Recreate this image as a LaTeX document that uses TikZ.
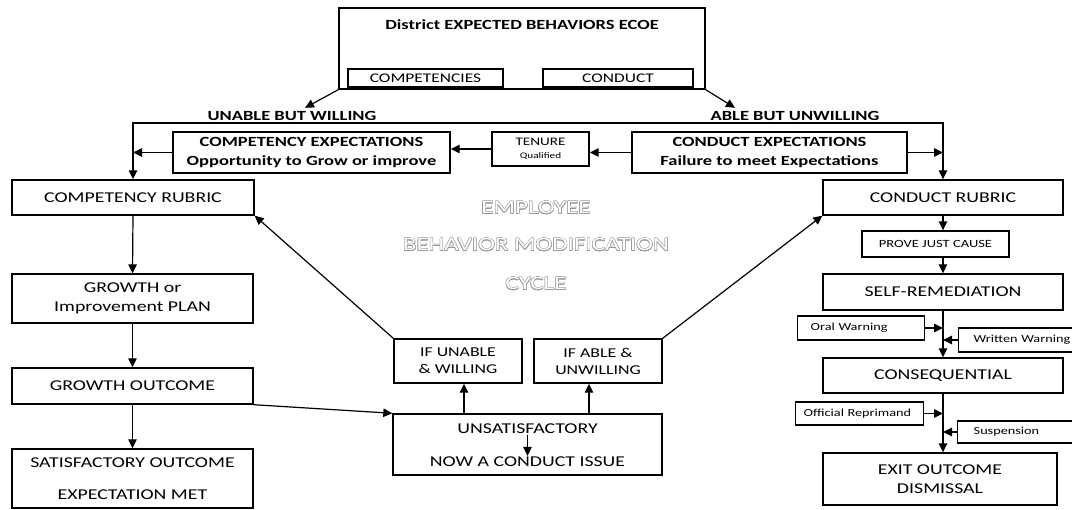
\documentclass[tikz,border=0pt]{standalone}
\usepackage{fontspec}
\setmainfont{Carlito}[FakeStretch=1.32]
\usepackage{contour}
\usepackage{tikz}
\usetikzlibrary{arrows.meta}

\newcommand{\fbig}{\fontsize{15}{19}\selectfont}
\newcommand{\fmid}{\fontsize{13.5}{17}\selectfont}
\newcommand{\fsmall}{\fontsize{11}{13}\selectfont}
\newcommand{\ftiny}{\fontsize{10.8}{12}\selectfont}
\newcommand{\fhead}{\fontsize{14}{19}\selectfont\bfseries}
\contourlength{0.45pt}
\contournumber{16}

\begin{document}
\begin{tikzpicture}[x=1pt, y=-1pt, >={Triangle[length=9pt,width=8.5pt]},
    box/.style={draw, line width=1.4pt, inner sep=0pt, align=center},
    conn/.style={line width=1.2pt}]
		\useasboundingbox (0,0) rectangle (1072,510);
		\clip (0,0) rectangle (1072,510);
		% top block
		\node[box, minimum width=366pt, minimum height=81pt] (ecoe) at (522,48.5) {};
		\node[font=\fhead] (ecoetitle) at (522,25) {District EXPECTED BEHAVIORS ECOE};
		\node[box, font=\fontsize{13.2}{16}\selectfont, minimum width=155pt, minimum height=18pt] (comp) at (425.5,78) {COMPETENCIES};
		\node[box, font=\fontsize{13.2}{16}\selectfont, minimum width=150pt, minimum height=18pt] (cond) at (618,78) {CONDUCT};
		\node[font=\fhead] (unable) at (292,116) {UNABLE BUT WILLING};
		\node[font=\fhead] (able) at (795,116) {ABLE BUT UNWILLING};
		\coordinate (mid) at (540,123);
		% expectations row
		\node[box, font=\fhead, minimum width=277pt, minimum height=41pt] (compexp) at (311.5,152.5) {COMPETENCY EXPECTATIONS\\Opportunity to Grow or improve};
		\node[box, font=\fontsize{11.5}{13}\selectfont, minimum width=97pt, minimum height=34pt] (tenure) at (540.5,149) {TENURE\\{\fontsize{8.5}{10}\selectfont Qualified}};
		\node[box, font=\fhead, minimum width=275pt, minimum height=41pt] (condexp) at (769.5,152.5) {CONDUCT EXPECTATIONS\\Failure to meet Expectations};
		% left column
		\node[box, font=\fbig, minimum width=242pt, minimum height=35pt] (comprubric) at (133,197.5) {COMPETENCY RUBRIC};
		\node[box, font=\fbig, minimum width=241pt, minimum height=49pt] (plan) at (132.5,298.5) {GROWTH or\\Improvement PLAN};
		\node[box, font=\fbig, minimum width=241pt, minimum height=36pt] (outcome) at (132.5,386) {GROWTH OUTCOME};
		\node[box, font=\fbig, minimum width=241pt, minimum height=59pt] (satis) at (132.5,478.5) {SATISFACTORY OUTCOME\\[13pt]EXPECTATION MET};
		% centre
		\node[font=\fontsize{19}{22}\selectfont, text=white] (cyc1) at (536,208) {\contour{black!40}{EMPLOYEE}};
		\node[font=\fontsize{19}{22}\selectfont, text=white] (cyc2) at (536,245) {\contour{black!40}{BEHAVIOR MODIFICATION}};
		\node[font=\fontsize{19}{22}\selectfont, text=white] (cyc3) at (536,284) {\contour{black!40}{CYCLE}};
		\node[box, font=\fmid, minimum width=128pt, minimum height=44pt] (ifunable) at (458,361) {IF UNABLE\\\& WILLING};
		\node[box, font=\fmid, minimum width=128pt, minimum height=44pt] (ifable) at (598,361) {IF ABLE \&\\UNWILLING};
		\node[box, minimum width=269pt, minimum height=61pt] (unsat) at (527.5,444.5) {};
		\node[font=\fbig, inner sep=1pt] (unsat1) at (527.5,429) {UNSATISFACTORY};
		\node[font=\fbig, inner sep=1pt] (unsat2) at (527.5,462) {NOW A CONDUCT ISSUE};
		% right column
		\node[box, font=\fbig, minimum width=240pt, minimum height=35pt] (condrubric) at (943,197.5) {CONDUCT RUBRIC};
		\node[box, font=\fsmall, minimum width=147pt, minimum height=26pt] (prove) at (935.5,244) {PROVE JUST CAUSE};
		\node[box, font=\fbig, minimum width=240pt, minimum height=36pt] (selfrem) at (943,292) {SELF-REMEDIATION};
		\node[box, font=\ftiny, align=left, text width=101pt, inner xsep=13pt, minimum height=24pt, anchor=west] (oral) at (797,328) {Oral Warning};
		\node[box, font=\ftiny, align=left, text width=110pt, inner xsep=15pt, minimum height=24pt, anchor=west] (written) at (958,340) {Written Warning};
		\node[box, font=\fbig, minimum width=240pt, minimum height=35pt] (conseq) at (943,375.5) {CONSEQUENTIAL};
		\node[box, font=\ftiny, align=left, text width=112pt, inner xsep=8pt, minimum height=23pt, anchor=west] (reprimand) at (795,413.5) {Official Reprimand};
		\node[box, font=\ftiny, align=left, text width=100pt, inner xsep=16pt, minimum height=22pt, anchor=west] (suspension) at (957,432) {Suspension};
		\node[box, font=\fbig, minimum width=234pt, minimum height=52pt] (exit) at (940,479) {EXIT OUTCOME\\DISMISSAL};
		% connectors at the top
		\draw[conn, ->] (ecoe.south west) -- ([xshift=13pt]unable.north);
		\draw[conn, ->] (ecoe.south east) -- ([xshift=-60pt]able.north);
		\draw[conn, ->] (mid) -| (comprubric.north);
		\draw[conn, ->] (mid) -| (condrubric.north);
		\draw[conn, ->] (compexp.west) -- (compexp.west -| comprubric.north);
		\draw[conn, ->] (tenure.west) -- (tenure.west -| compexp.east);
		\draw[conn, ->] (condexp.west) -- (condexp.west -| tenure.east);
		\draw[conn, ->] (condexp.east) -- (condexp.east -| condrubric.north);
		% left column
		\draw[conn, ->] (comprubric.south) -- (plan.north);
		\draw[conn, ->] (plan.south) -- (outcome.north);
		\draw[conn, ->] (outcome.south) -- (satis.north);
		\draw[conn, ->] (outcome.south east) -- (unsat.north west);
		% centre
		\draw[conn, ->] ([xshift=6pt]ifunable.south |- unsat.north) -- ([xshift=6pt]ifunable.south);
		\draw[conn, ->] ([xshift=-9pt]ifable.south |- unsat.north) -- ([xshift=-9pt]ifable.south);
		\draw[conn, ->] (unsat1.south) -- (unsat2.north);
		\draw[conn, ->] (ifunable.north west) -- (comprubric.south east);
		\draw[conn, ->] (ifable.north east) -- (condrubric.south west);
		% right column
		\draw[conn, ->] (condrubric.south) -- (condrubric.south |- prove.north);
		\draw[conn, ->] (condrubric.south |- prove.south) -- (selfrem.north);
		\draw[conn, ->] (selfrem.south) -- (conseq.north);
		\draw[conn, ->] (oral.east) -- (oral.east -| selfrem.south);
		\draw[conn, ->] (written.west) -- (written.west -| selfrem.south);
		\draw[conn, ->] (conseq.south) -- (conseq.south |- exit.north);
		\draw[conn, ->] (reprimand.east) -- (reprimand.east -| conseq.south);
		\draw[conn, ->] (suspension.west) -- (suspension.west -| conseq.south);
	\end{tikzpicture}
\end{document}
